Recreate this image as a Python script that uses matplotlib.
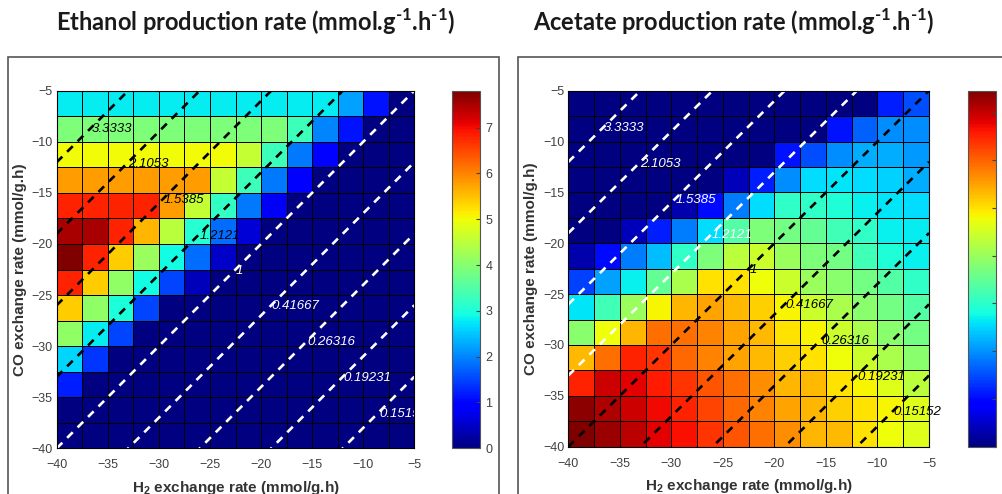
import numpy as np
import matplotlib.pyplot as plt
from matplotlib import font_manager
from matplotlib.patches import Rectangle

# grid of exchange rates (mmol/g.h), cell edges every 2.5
h2_rate = np.linspace(-40, -5, 15)
co_rate = np.linspace(-5, -40, 15)   # top row first
axis_ticks = [-40, -35, -30, -25, -20, -15, -10, -5]

# ethanol production rate, rows from CO = -5 (top) to -40 (bottom), cols H2 = -40 .. -5
ethanol = [
    [2.8, 2.8, 2.8, 2.8, 2.8, 2.8, 2.8, 2.8, 2.8, 2.8, 2.8, 2.2, 1.1, 0.0],
    [3.9, 3.9, 3.9, 3.9, 3.9, 3.9, 3.9, 3.9, 3.9, 3.3, 2.0, 1.1, 0.0, 0.0],
    [5.0, 5.0, 5.0, 5.0, 5.0, 5.0, 5.0, 4.6, 3.3, 1.9, 1.0, 0.0, 0.0, 0.0],
    [5.8, 5.8, 5.8, 5.8, 5.8, 5.8, 4.6, 3.3, 1.9, 0.9, 0.0, 0.0, 0.0, 0.0],
    [6.8, 6.8, 6.8, 6.8, 5.8, 4.6, 3.2, 1.9, 0.8, 0.0, 0.0, 0.0, 0.0, 0.0],
    [7.5, 7.5, 6.8, 5.6, 4.5, 3.1, 1.8, 0.6, 0.0, 0.0, 0.0, 0.0, 0.0, 0.0],
    [7.8, 6.8, 5.4, 4.2, 2.9, 1.8, 0.5, 0.0, 0.0, 0.0, 0.0, 0.0, 0.0, 0.0],
    [6.8, 5.4, 4.1, 2.9, 1.5, 0.4, 0.0, 0.0, 0.0, 0.0, 0.0, 0.0, 0.0, 0.0],
    [5.4, 4.1, 3.0, 1.5, 0.0, 0.0, 0.0, 0.0, 0.0, 0.0, 0.0, 0.0, 0.0, 0.0],
    [4.1, 2.8, 1.5, 0.0, 0.0, 0.0, 0.0, 0.0, 0.0, 0.0, 0.0, 0.0, 0.0, 0.0],
    [2.6, 1.4, 0.0, 0.0, 0.0, 0.0, 0.0, 0.0, 0.0, 0.0, 0.0, 0.0, 0.0, 0.0],
    [1.2, 0.0, 0.0, 0.0, 0.0, 0.0, 0.0, 0.0, 0.0, 0.0, 0.0, 0.0, 0.0, 0.0],
    [0.0, 0.0, 0.0, 0.0, 0.0, 0.0, 0.0, 0.0, 0.0, 0.0, 0.0, 0.0, 0.0, 0.0],
    [0.0, 0.0, 0.0, 0.0, 0.0, 0.0, 0.0, 0.0, 0.0, 0.0, 0.0, 0.0, 0.0, 0.0],
]

# acetate production rate, same layout
acetate = [
    [0.0, 0.0, 0.0, 0.0, 0.0, 0.0, 0.0, 0.0, 0.0, 0.0, 0.0, 0.0, 2.3, 3.0],
    [0.0, 0.0, 0.0, 0.0, 0.0, 0.0, 0.0, 0.0, 0.0, 0.0, 2.1, 3.3, 3.9, 3.9],
    [0.0, 0.0, 0.0, 0.0, 0.0, 0.0, 0.0, 0.0, 2.1, 3.0, 3.9, 4.4, 4.4, 4.1],
    [0.0, 0.0, 0.0, 0.0, 0.0, 0.0, 0.8, 2.3, 3.9, 5.1, 5.2, 5.1, 4.9, 4.4],
    [0.0, 0.0, 0.0, 0.0, 0.6, 2.0, 3.7, 5.1, 6.1, 6.1, 5.8, 5.4, 5.2, 5.1],
    [0.0, 0.0, 0.8, 2.3, 3.7, 5.1, 6.7, 7.5, 7.3, 7.0, 6.4, 6.1, 5.4, 5.3],
    [0.6, 2.0, 3.7, 4.6, 6.1, 7.5, 8.6, 8.9, 8.0, 7.5, 7.3, 6.4, 5.8, 5.4],
    [2.8, 4.2, 5.4, 7.0, 8.3, 10.0, 10.0, 9.5, 8.9, 8.0, 7.7, 7.3, 6.7, 6.1],
    [5.2, 6.4, 8.0, 9.7, 10.7, 11.0, 10.6, 10.3, 9.7, 8.9, 8.3, 7.7, 7.3, 6.7],
    [7.7, 9.5, 10.7, 11.8, 11.8, 11.5, 11.0, 10.6, 10.0, 9.7, 8.9, 8.3, 7.7, 7.3],
    [10.6, 11.8, 13.0, 12.7, 11.9, 11.5, 11.0, 10.6, 10.3, 10.0, 9.5, 8.9, 8.3, 7.7],
    [13.0, 13.9, 13.6, 13.1, 12.7, 12.2, 11.8, 11.3, 10.7, 10.6, 10.0, 9.7, 9.2, 8.6],
    [14.7, 14.3, 13.9, 13.4, 13.0, 12.5, 11.9, 11.5, 11.0, 10.7, 10.3, 10.0, 9.7, 9.2],
    [14.9, 14.5, 14.1, 13.6, 13.3, 12.7, 12.2, 11.8, 11.3, 10.7, 10.6, 10.0, 9.5, 9.2],
]

# iso-ratio lines CO - H2 = offset, with their labels
line_offsets = [28, 21, 14, 7, 0, -7, -14, -21, -28]
line_labels = ['3.3333', '2.1053', '1.5385', '1.2121', '1',
               '0.41667', '0.26316', '0.19231', '0.15152']
label_co = [-8.7, -12.2, -15.7, -19.2, -22.6, -26.1, -29.6, -33.1, -36.6]

ethanol_cticks = [0, 1, 2, 3, 4, 5, 6, 7]
acetate_cticks = [0, 2, 4, 6, 8, 10, 12, 14]

names = {f.name for f in font_manager.fontManager.ttflist}
if 'Liberation Sans Narrow' in names:
    title_font, title_size = 'Liberation Sans Narrow', 19
else:
    title_font, title_size = 'Lato', 17

plt.rcParams['font.family'] = ['Liberation Sans', 'DejaVu Sans']
plt.rcParams['mathtext.fontset'] = 'custom'
plt.rcParams['mathtext.rm'] = title_font + ':bold'
plt.rcParams['mathtext.bf'] = 'Liberation Sans:bold'

W, H = 1002, 494
tick_color = '#404040'


def fig_box(x0, y0, x1, y1):
    # pixel box (top-left origin) -> figure fraction rect
    return [x0 / W, 1 - y1 / H, (x1 - x0) / W, (y1 - y0) / H]


def draw_panel(fig, ax_box, cax_box, data, vmax, cticks, upper_color, lower_color, clip_labels):
    ax = fig.add_axes(fig_box(*ax_box))
    cax = fig.add_axes(fig_box(*cax_box))
    mesh = ax.pcolormesh(h2_rate, co_rate, np.array(data), cmap='jet', vmin=0, vmax=vmax,
                         edgecolors='k', linewidth=0.6)
    for off, lab, ly in zip(line_offsets, line_labels, label_co):
        col = upper_color if off > 0 else lower_color
        xs = np.array([h2_rate[0], h2_rate[-1]])
        ax.plot(xs, xs + off, color=col, lw=1.9, linestyle=(0, (3.0, 2.6)))
        ax.text(ly - off + 0.15, ly, lab, color=col, fontsize=9.5, style='italic',
                ha='left', va='center', clip_on=clip_labels)
    ax.set_xlim(-40, -5)
    ax.set_ylim(-40, -5)
    ax.set_xticks(axis_ticks)
    ax.set_yticks(axis_ticks)
    ax.tick_params(length=0, labelsize=9, colors=tick_color)
    ax.tick_params(axis='x', pad=8)
    ax.tick_params(axis='y', pad=3)
    ax.set_xlabel(r'H$_\mathbf{2}$ exchange rate (mmol/g.h)', fontsize=11, fontweight='bold',
                  color='#333333')
    ax.set_ylabel('CO exchange rate (mmol/g.h)', fontsize=11, fontweight='bold', color='#333333')
    ax.xaxis.set_label_coords(0.5, -0.086)
    ax.yaxis.set_label_coords(-0.083, 0.5)

    cb = fig.colorbar(mesh, cax=cax)
    cb.set_ticks(cticks)
    cb.ax.tick_params(direction='in', length=3, width=0.8, labelsize=9, colors=tick_color, pad=4)
    cb.outline.set_edgecolor('#555555')
    cb.outline.set_linewidth(0.8)
    return ax


def main():
    fig = plt.figure(figsize=(W / 100, H / 100), dpi=100)

    # frames around each sub-figure
    for x0, x1 in [(8, 499), (518, 1012)]:
        fig.add_artist(Rectangle((x0 / W, -0.1), (x1 - x0) / W, 1 - 57 / H + 0.1,
                                 transform=fig.transFigure, fill=False,
                                 edgecolor='#555555', lw=1.2))

    draw_panel(fig, (56.7, 90.7, 414.3, 448.3), (452.3, 91, 480, 448.3),
               ethanol, 7.8, ethanol_cticks, 'black', 'white', True)
    draw_panel(fig, (568.3, 90.7, 929, 446.7), (967.7, 90.7, 996, 446.7),
               acetate, 14.9, acetate_cticks, 'white', 'black', False)

    sup = r'$^{\text{-1}}$'
    fig.text(256 / W, 1 - 22 / H, 'Ethanol production rate (mmol.g' + sup + '.h' + sup + ')',
             ha='center', va='center', fontsize=title_size, fontweight='bold',
             family=title_font, color='#1a1a1a')
    fig.text(734 / W, 1 - 22 / H, 'Acetate production rate (mmol.g' + sup + '.h' + sup + ')',
             ha='center', va='center', fontsize=title_size, fontweight='bold',
             family=title_font, color='#1a1a1a')

    fig.savefig('out.png', dpi=100)
    plt.close(fig)


if __name__ == "__main__":
    main()
